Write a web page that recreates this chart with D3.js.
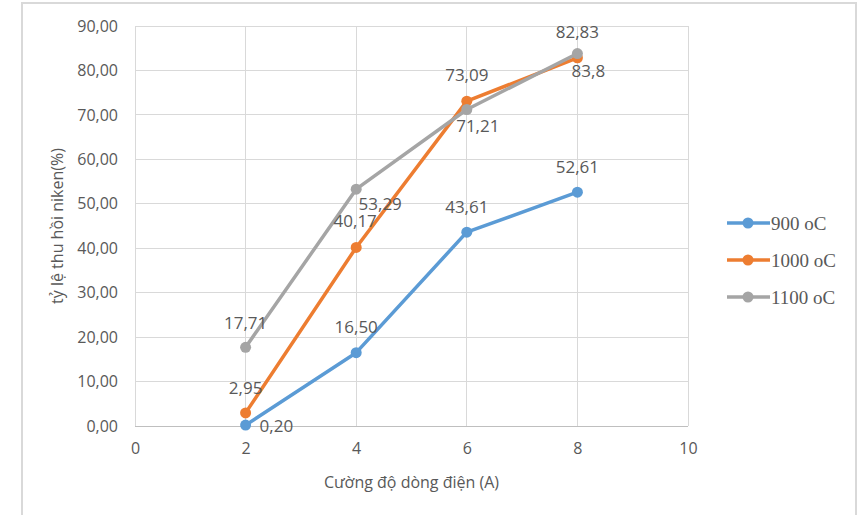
<!DOCTYPE html>
<html>
<head>
<meta charset="utf-8">
<script src="https://cdn.jsdelivr.net/npm/d3@7/dist/d3.min.js"></script>
<style>
  html, body { margin: 0; padding: 0; background: #fff; }
  svg { display: block; }
</style>
</head>
<body>
<svg id="chart" width="864" height="515"></svg>
<script>
// Current (A) on the x axis
const currents = [2, 4, 6, 8];
// Nickel recovery (%) per temperature
const series900 = [0.20, 16.50, 43.61, 52.61];
const series1000 = [2.95, 40.17, 73.09, 82.83];
const series1100 = [17.71, 53.29, 71.21, 83.80];
const seriesNames = ["900 oC", "1000 oC", "1100 oC"];
// Printed value labels
const labels900 = ["0,20", "16,50", "43,61", "52,61"];
const labels1000 = ["2,95", "40,17", "73,09", "82,83"];
const labels1100 = ["17,71", "53,29", "71,21", "83,8"];
const xTicks = [0, 2, 4, 6, 8, 10];
const yTicks = [0, 10, 20, 30, 40, 50, 60, 70, 80, 90];

const colors = ["#5B9BD5", "#ED7D31", "#A5A5A5"];
// label placement: [dx, dy, anchor]
const labelPlacement = [
  [[14, 1, "start"], [0, -26, "middle"], [0, -25, "middle"], [0, -25, "middle"]],
  [[0, -25, "middle"], [-1, -26, "middle"], [0, -26, "middle"], [0, -26, "middle"]],
  [[0, -24, "middle"], [24, 15, "middle"], [11, 17, "middle"], [11, 17, "middle"]]
];

const svg = d3.select("#chart");
const sans = "'Open Sans', 'Noto Sans', sans-serif";
const textColor = "#595959";

// outer chart frame
svg.append("rect")
  .attr("x", 22).attr("y", 3).attr("width", 834).attr("height", 530)
  .attr("fill", "none").attr("stroke", "#d9d9d9").attr("stroke-width", 2);

const x = d3.scaleLinear().domain([0, 10]).range([135, 688]);
const y = d3.scaleLinear().domain([0, 90]).range([426, 26]);

// gridlines
svg.append("g").selectAll("line").data(yTicks).join("line")
  .attr("x1", x(0)).attr("x2", x(10))
  .attr("y1", d => y(d)).attr("y2", d => y(d))
  .attr("stroke", d => d === 0 ? "#bfbfbf" : "#d9d9d9").attr("stroke-width", 1)
  .attr("shape-rendering", "crispEdges");
svg.append("g").selectAll("line").data(xTicks).join("line")
  .attr("x1", d => x(d)).attr("x2", d => x(d))
  .attr("y1", y(0)).attr("y2", y(90))
  .attr("stroke", "#d9d9d9").attr("stroke-width", 1)
  .attr("shape-rendering", "crispEdges");

// axes (tick labels only)
const yAxis = d3.axisLeft(y).tickValues(yTicks).tickSize(0).tickPadding(17)
  .tickFormat(d => d3.format(".2f")(d).replace(".", ","));
const gy = svg.append("g").attr("transform", `translate(${x(0)},0)`).call(yAxis);
gy.select(".domain").remove();
gy.selectAll("text").attr("font-family", sans).attr("font-size", 16).attr("fill", textColor);

const xAxis = d3.axisBottom(x).tickValues(xTicks).tickSize(0).tickPadding(17);
const gx = svg.append("g").attr("transform", `translate(0,${y(0)})`).call(xAxis);
gx.select(".domain").remove();
gx.selectAll("text").attr("font-family", sans).attr("font-size", 16).attr("fill", textColor);

// axis titles
svg.append("text")
  .attr("transform", `translate(63,${(y(0) + y(90)) / 2}) rotate(-90)`)
  .attr("text-anchor", "middle")
  .attr("font-family", sans).attr("font-size", 16).attr("fill", textColor)
  .text("tỷ lệ thu hồi niken(%)");
svg.append("text")
  .attr("x", (x(0) + x(10)) / 2).attr("y", 488)
  .attr("text-anchor", "middle")
  .attr("font-family", sans).attr("font-size", 16).attr("fill", textColor)
  .text("Cường độ dòng điện (A)");

// series
const allSeries = [series900, series1000, series1100];
const allLabels = [labels900, labels1000, labels1100];
const line = d3.line().x(d => x(d[0])).y(d => y(d[1]));

allSeries.forEach((vals, i) => {
  const pts = currents.map((c, j) => [c, vals[j]]);
  const g = svg.append("g");
  g.append("path").datum(pts)
    .attr("d", line).attr("fill", "none")
    .attr("stroke", colors[i]).attr("stroke-width", 3.5)
    .attr("stroke-linejoin", "round").attr("stroke-linecap", "round");
  g.selectAll("circle").data(pts).join("circle")
    .attr("cx", d => x(d[0])).attr("cy", d => y(d[1])).attr("r", 5.5)
    .attr("fill", colors[i]);
});

// value labels
allSeries.forEach((vals, i) => {
  svg.append("g").selectAll("text").data(currents).join("text")
    .attr("x", (c, j) => x(c) + labelPlacement[i][j][0])
    .attr("y", (c, j) => y(vals[j]) + labelPlacement[i][j][1])
    .attr("dy", "0.35em")
    .attr("text-anchor", (c, j) => labelPlacement[i][j][2])
    .attr("font-family", sans).attr("font-size", 17).attr("fill", textColor)
    .text((c, j) => allLabels[i][j]);
});

// legend
const legend = svg.append("g").attr("transform", "translate(727,223)");
seriesNames.forEach((name, i) => {
  const row = legend.append("g").attr("transform", `translate(0,${i * 37})`);
  row.append("line").attr("x1", 0).attr("x2", 43).attr("y1", 0).attr("y2", 0)
    .attr("stroke", colors[i]).attr("stroke-width", 3.5);
  row.append("circle").attr("cx", 21).attr("cy", 0).attr("r", 5.5).attr("fill", colors[i]);
  row.append("text").attr("x", 44).attr("y", 0).attr("dy", "0.35em")
    .attr("font-family", "'Liberation Serif', 'Times New Roman', serif")
    .attr("font-size", 19).attr("fill", textColor)
    .text(name);
});
</script>
</body>
</html>
